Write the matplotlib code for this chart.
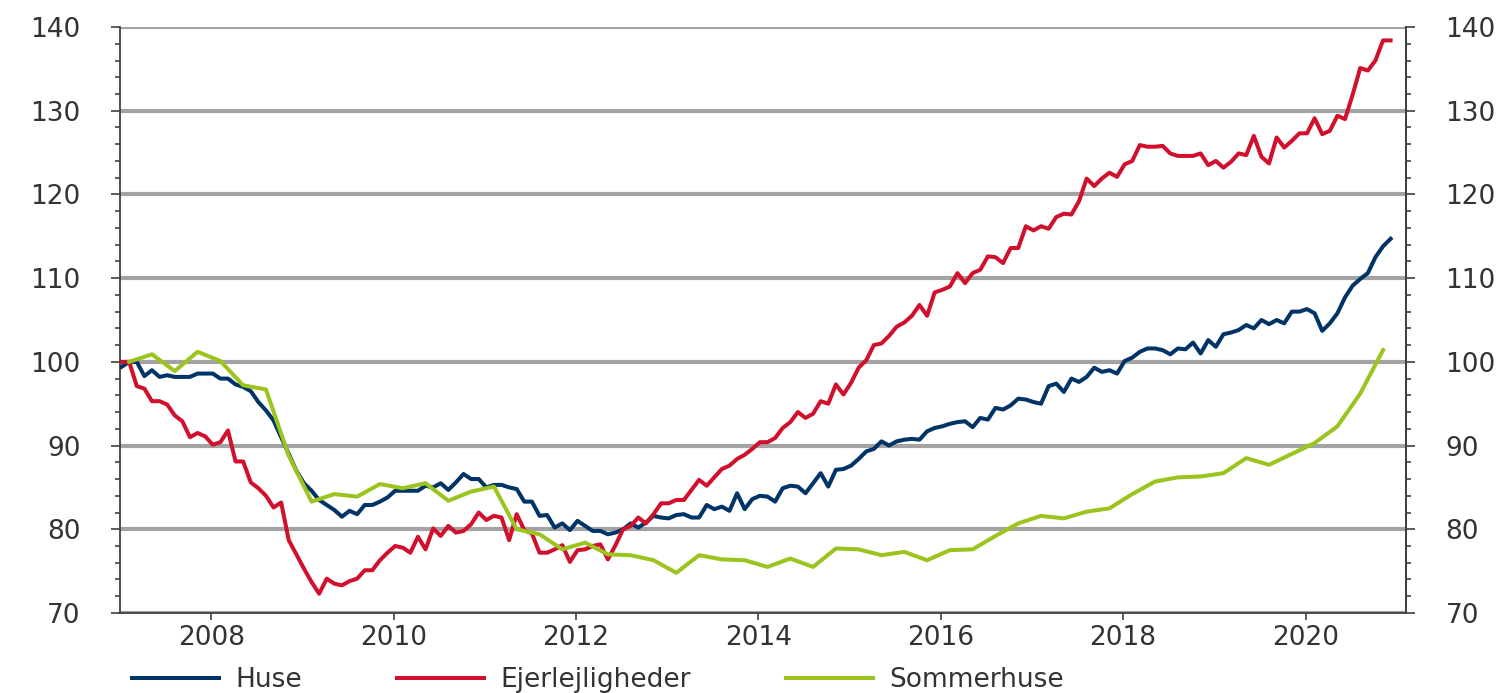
import numpy as np
import matplotlib
matplotlib.use("Agg")
import matplotlib.pyplot as plt
from matplotlib.ticker import MultipleLocator

# Monthly index, Jan 2007 - Dec 2020 (one row per year)
huse = [
    99.4, 100.0, 100.0, 98.3, 99.0, 98.2, 98.4, 98.2, 98.2, 98.2, 98.6, 98.6,
    98.6, 98.0, 98.0, 97.3, 97.0, 96.5, 95.2, 94.2, 93.0, 91.0, 89.0, 87.0,
    85.5, 84.6, 83.5, 82.9, 82.3, 81.5, 82.2, 81.8, 82.9, 82.9, 83.3, 83.8,
    84.6, 84.6, 84.6, 84.6, 85.2, 85.0, 85.5, 84.7, 85.6, 86.6, 86.0, 86.0,
    85.0, 85.3, 85.3, 85.0, 84.8, 83.3, 83.3, 81.6, 81.7, 80.2, 80.7, 79.9,
    81.0, 80.4, 79.8, 79.8, 79.4, 79.6, 80.0, 80.7, 80.2, 80.8, 81.6, 81.4,
    81.3, 81.7, 81.8, 81.4, 81.4, 82.9, 82.4, 82.7, 82.2, 84.3, 82.4, 83.6,
    84.0, 83.9, 83.3, 84.9, 85.2, 85.1, 84.3, 85.5, 86.7, 85.1, 87.1, 87.2,
    87.6, 88.4, 89.3, 89.6, 90.5, 90.0, 90.5, 90.7, 90.8, 90.7, 91.7, 92.1,
    92.3, 92.6, 92.8, 92.9, 92.2, 93.3, 93.1, 94.5, 94.3, 94.8, 95.6, 95.5,
    95.2, 95.0, 97.1, 97.4, 96.4, 98.0, 97.6, 98.2, 99.3, 98.8, 99.0, 98.6,
    100.1, 100.5, 101.2, 101.6, 101.6, 101.4, 100.9, 101.6, 101.5, 102.3, 101.0, 102.6,
    101.8, 103.3, 103.5, 103.8, 104.4, 104.0, 105.0, 104.5, 105.0, 104.6, 106.0, 106.0,
    106.3, 105.8, 103.7, 104.6, 105.8, 107.7, 109.1, 109.9, 110.6, 112.5, 113.8, 114.7,
]

ejerlejligheder = [
    100.0, 100.0, 97.1, 96.8, 95.3, 95.3, 94.9, 93.6, 92.9, 91.0, 91.5, 91.1,
    90.1, 90.4, 91.8, 88.1, 88.1, 85.6, 84.9, 84.0, 82.6, 83.2, 78.7, 77.0,
    75.3, 73.7, 72.3, 74.1, 73.5, 73.3, 73.8, 74.1, 75.1, 75.1, 76.3, 77.2,
    78.0, 77.8, 77.2, 79.1, 77.6, 80.1, 79.2, 80.4, 79.6, 79.8, 80.6, 82.0,
    81.1, 81.6, 81.4, 78.7, 81.8, 79.9, 79.5, 77.2, 77.2, 77.6, 78.1, 76.1,
    77.5, 77.6, 78.0, 78.2, 76.4, 78.1, 80.0, 80.4, 81.4, 80.7, 81.8, 83.1,
    83.1, 83.5, 83.5, 84.7, 85.9, 85.2, 86.2, 87.2, 87.6, 88.4, 88.9, 89.6,
    90.4, 90.4, 90.9, 92.1, 92.8, 94.0, 93.3, 93.8, 95.3, 95.0, 97.3, 96.1,
    97.5, 99.3, 100.2, 102.0, 102.2, 103.1, 104.2, 104.7, 105.5, 106.8, 105.5, 108.3,
    108.6, 109.0, 110.6, 109.4, 110.6, 111.0, 112.6, 112.5, 111.8, 113.6, 113.6, 116.2,
    115.7, 116.2, 115.9, 117.3, 117.7, 117.6, 119.2, 121.9, 121.0, 121.9, 122.6, 122.1,
    123.6, 124.0, 125.9, 125.7, 125.7, 125.8, 124.9, 124.6, 124.6, 124.6, 124.9, 123.5,
    124.0, 123.2, 123.9, 124.9, 124.7, 127.0, 124.5, 123.7, 126.8, 125.6, 126.4, 127.3,
    127.3, 129.1, 127.2, 127.6, 129.4, 129.0, 131.9, 135.1, 134.8, 136.0, 138.4, 138.4,
]

# Quarterly, 2007Q1 - 2020Q4
sommerhuse = [
    100.0, 100.9, 98.9, 101.2,
    100.1, 97.2, 96.7, 88.8,
    83.3, 84.2, 83.9, 85.4,
    84.9, 85.5, 83.4, 84.5,
    85.1, 80.0, 79.4, 77.6,
    78.4, 77.0, 76.9, 76.3,
    74.8, 76.9, 76.4, 76.3,
    75.5, 76.5, 75.5, 77.7,
    77.6, 76.9, 77.3, 76.3,
    77.5, 77.6, 79.2, 80.7,
    81.6, 81.3, 82.1, 82.5,
    84.2, 85.7, 86.2, 86.3,
    86.7, 88.5, 87.7, 89.0,
    90.3, 92.3, 96.2, 101.4,
]

x_month = 2007 + (np.arange(len(huse)) + 0.2) / 12
x_quarter = 2007 + (np.arange(len(sommerhuse)) * 3 + 1.2) / 12

navy = "#003366"
red = "#D0102C"
green = "#9BC41E"
txt = "#333333"
grid_c = "#a3a3a3"
fs = 19

plt.rcParams['font.family'] = ['DejaVu Sans']

fig = plt.figure(figsize=(15.1, 6.93), dpi=100)
ax = fig.add_axes([0.0795, 0.1155, 0.8515, 0.8455])

ax.plot(x_month, huse, color=navy, lw=2.9, label="Huse", zorder=3)
ax.plot(x_month, ejerlejligheder, color=red, lw=2.9, label="Ejerlejligheder", zorder=3)
ax.plot(x_quarter, sommerhuse, color=green, lw=2.9, label="Sommerhuse", zorder=3)

ax.set_xlim(2007.0, 2021.1)
ax.set_ylim(70, 140)
ax.set_xticks(range(2008, 2021, 2))
ax.yaxis.set_major_locator(MultipleLocator(10))
ax.yaxis.set_minor_locator(MultipleLocator(2))
ax.grid(axis='y', which='major', color=grid_c, lw=3, zorder=0)
ax.set_axisbelow(True)

ax.spines['top'].set_visible(False)
for s in ['left', 'right', 'bottom']:
    ax.spines[s].set_color("#404040")
    ax.spines[s].set_linewidth(1.3)

ax.tick_params(axis='x', direction='out', length=5, width=1.2, color="#404040",
               labelsize=fs, labelcolor=txt, pad=4)
ax.tick_params(axis='y', which='major', direction='out', length=6.5, width=1.2,
               color="#404040", labelsize=fs, labelcolor=txt, pad=22)
ax.tick_params(axis='y', which='minor', direction='out', length=3.5, width=1.2,
               color="#404040")

ax2 = ax.twinx()
ax2.set_ylim(70, 140)
ax2.yaxis.set_major_locator(MultipleLocator(10))
ax2.yaxis.set_minor_locator(MultipleLocator(2))
for s in ['top', 'left', 'bottom']:
    ax2.spines[s].set_visible(False)
ax2.spines['right'].set_color("#404040")
ax2.spines['right'].set_linewidth(1.3)
ax2.tick_params(axis='y', which='major', direction='out', length=6.5, width=1.2,
                color="#404040", labelsize=fs, labelcolor=txt, pad=22)
ax2.tick_params(axis='y', which='minor', direction='out', length=3.5, width=1.2,
                color="#404040")

handles, labels = ax.get_legend_handles_labels()
fig.legend(handles, labels, loc='center left', bbox_to_anchor=(0.0874, 0.019),
           ncol=3, frameon=False, fontsize=fs, labelcolor=txt,
           handlelength=3.3, handletextpad=0.62, columnspacing=3.6,
           borderpad=0, borderaxespad=0)

fig.savefig("out.png", dpi=100)
